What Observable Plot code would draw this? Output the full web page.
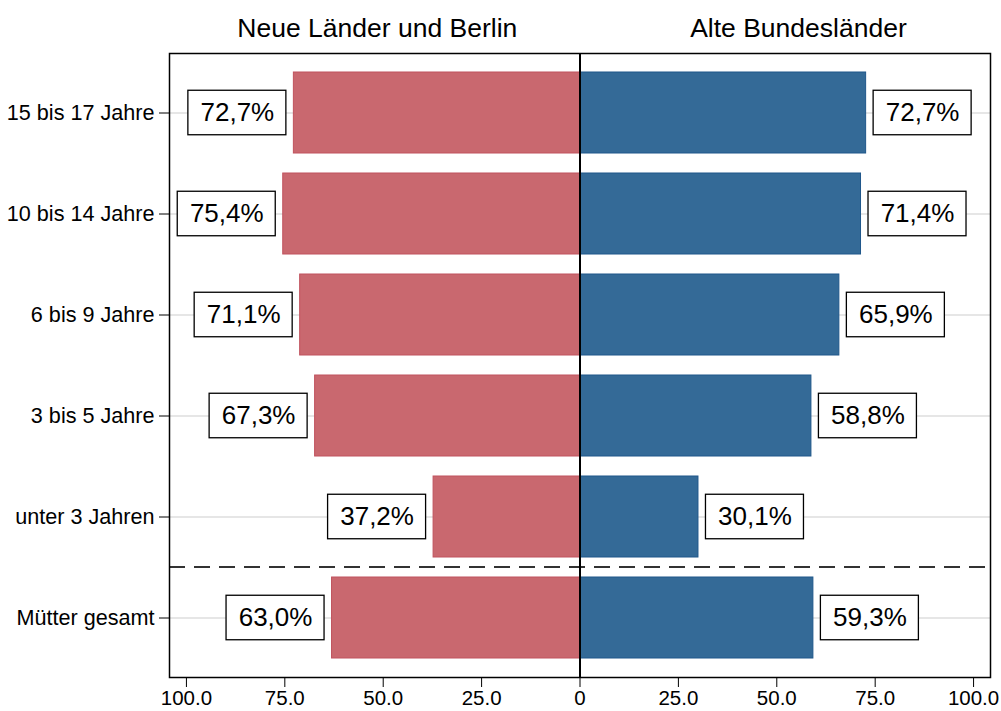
<!DOCTYPE html>
<html>
<head>
<meta charset="utf-8">
<script src="https://cdn.jsdelivr.net/npm/d3@7"></script>
<script src="https://cdn.jsdelivr.net/npm/@observablehq/plot@0.6"></script>
<style>
  html, body { margin: 0; padding: 0; background: #fff; }
  #chart { width: 1001px; height: 711px; }
</style>
</head>
<body>
<div id="chart"></div>
<script>
const categories = ["15 bis 17 Jahre", "10 bis 14 Jahre", "6 bis 9 Jahre", "3 bis 5 Jahre", "unter 3 Jahren", "Mütter gesamt"];
const ost = [72.7, 75.4, 71.1, 67.3, 37.2, 63.0];
const west = [72.7, 71.4, 65.9, 58.8, 30.1, 59.3];
const xTicks = [-100, -75, -50, -25, 0, 25, 50, 75, 100];
const titleOst = "Neue Länder und Berlin";
const titleWest = "Alte Bundesländer";

const rows = categories.map((c, i) => ({cat: c, ost: ost[i], west: west[i]}));
const fmt = v => v.toFixed(1).replace(".", ",") + "%";

const red = "#c9686f", redStroke = "#c0525e";
const blue = "#346a97", blueStroke = "#1f578a";

const chart = Plot.plot({
  width: 1001,
  height: 711,
  marginLeft: 169,
  marginRight: 11,
  marginTop: 53,
  marginBottom: 34,
  style: {fontFamily: "'Liberation Sans', Arial, Helvetica, sans-serif", color: "black", background: "white"},
  x: {domain: [-104.3, 104.3], ticks: xTicks, tickFormat: d => d === 0 ? "0" : Math.abs(d).toFixed(1), label: null},
  y: {domain: categories, paddingInner: 0.2, paddingOuter: 0.16, label: null},
  marks: [
    Plot.ruleY(categories, {stroke: "#e6e6e6", strokeWidth: 2}),
    Plot.barX(rows, {x1: 0, x2: d => -d.ost, y: "cat", fill: red, stroke: redStroke, strokeWidth: 1}),
    Plot.barX(rows, {x1: 0, x2: d => d.west, y: "cat", fill: blue, stroke: blueStroke, strokeWidth: 1}),
    // label boxes
    Plot.barX(rows, {x1: d => -d.ost, x2: d => -d.ost, y: "cat", insetLeft: -105.5, insetRight: 7.5, insetTop: 18.25, insetBottom: 18.25, fill: "white", stroke: "black", strokeWidth: 1.3}),
    Plot.barX(rows, {x1: d => d.west, x2: d => d.west, y: "cat", insetLeft: 7.5, insetRight: -105.5, insetTop: 18.25, insetBottom: 18.25, fill: "white", stroke: "black", strokeWidth: 1.3}),
    Plot.text(rows, {x: d => -d.ost, y: "cat", text: d => fmt(d.ost), dx: -56.5, fontSize: 26, fill: "black"}),
    Plot.text(rows, {x: d => d.west, y: "cat", text: d => fmt(d.west), dx: 56.5, fontSize: 26, fill: "black"}),
    // separator
    Plot.ruleY([categories[categories.length - 1]], {dy: -51, stroke: "#333", strokeWidth: 2, strokeDasharray: "16,9"}),
    Plot.ruleX([0], {stroke: "black", strokeWidth: 2}),
    Plot.frame({stroke: "black", strokeWidth: 1.5}),
    Plot.axisX({ticks: xTicks, tickSize: 10, tickPadding: 3, fontSize: 20.5, tickFormat: d => d === 0 ? "0" : Math.abs(d).toFixed(1), label: null}),
    Plot.axisY({tickSize: 10, tickPadding: 5, fontSize: 21.6, label: null}),
    Plot.text([titleOst], {x: -51.5, frameAnchor: "top", lineAnchor: "middle", dy: -25, fontSize: 26.5, fill: "black"}),
    Plot.text([titleWest], {x: 55.5, frameAnchor: "top", lineAnchor: "middle", dy: -25, fontSize: 26.5, fill: "black"})
  ]
});
document.getElementById("chart").appendChild(chart);
</script>
</body>
</html>
